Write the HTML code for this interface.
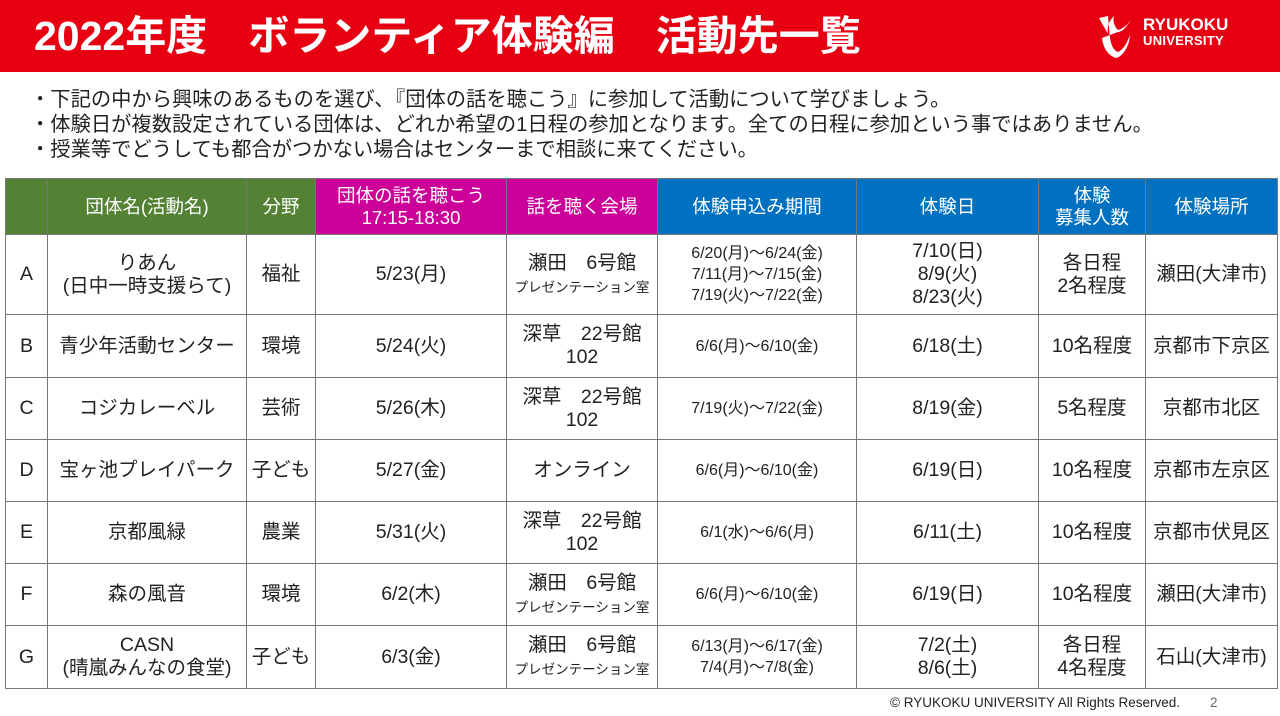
<!DOCTYPE html>
<html><head><meta charset="utf-8"><style>
*{margin:0;padding:0;box-sizing:border-box}
body{width:1280px;height:716px;background:#fff;position:relative;overflow:hidden;font-family:"Liberation Sans","Noto Sans CJK JP",sans-serif;color:#222}
.ban{position:absolute;left:0;top:0;width:1280px;height:72px;background:#e60012}
.ttl{position:absolute;left:34px;top:11px;font-size:41px;line-height:50px;font-weight:bold;color:#fff;letter-spacing:0px;white-space:nowrap}
.logo{position:absolute;left:1143px;top:17px;color:#fff;font-weight:bold;line-height:16px}
.notes{position:absolute;left:30px;top:88px;font-size:20.3px;line-height:25px;white-space:nowrap}
table{position:absolute;left:5px;top:178px;border-collapse:collapse;table-layout:fixed}
td{border:1px solid #777;text-align:center;vertical-align:middle;font-size:19.5px;line-height:23px}
th{color:#fff;font-weight:normal;font-size:18.5px;line-height:22px;border:1px solid #777;height:56px}
.g{background:#548235}.m{background:#cc0099}.b{background:#0070c0}
.s{font-size:13.5px;line-height:17px}.p{font-size:16px;line-height:21px}
.foot{position:absolute;left:890px;top:695px;font-size:13.5px;white-space:nowrap}
</style></head><body>
<div class="ban"></div>
<div class="ttl">2022年度　ボランティア体験編　活動先一覧</div>
<svg style="position:absolute;left:1096px;top:14px" width="40" height="46"><path d="M3 4 L12 2 L14 24 Q16 36 22 38 Q30 34 34 20 L36 4 Q30 14 22 16 Q16 10 18 2 Q10 10 12 20 M22 18 Q28 18 36 4 L33 28 Q28 42 20 44 Q8 40 6 24 Z" fill="#fff"/></svg>
<div class="logo"><div style="font-size:17px">RYUKOKU</div><div style="font-size:13px;letter-spacing:0.3px">UNIVERSITY</div></div>
<div class="notes">・下記の中から興味のあるものを選び､『団体の話を聴こう』に参加して活動について学びましょう。<br>・体験日が複数設定されている団体は、どれか希望の1日程の参加となります。全ての日程に参加という事ではありません。<br>・授業等でどうしても都合がつかない場合はセンターまで相談に来てください。</div>
<table>
<colgroup><col style="width:42px"><col style="width:199px"><col style="width:69px"><col style="width:191px"><col style="width:151px"><col style="width:199px"><col style="width:182px"><col style="width:107px"><col style="width:132px"></colgroup>
<tr><th class="g"></th><th class="g">団体名(活動名)</th><th class="g">分野</th><th class="m">団体の話を聴こう<br>17:15-18:30</th><th class="m">話を聴く会場</th><th class="b">体験申込み期間</th><th class="b">体験日</th><th class="b">体験<br>募集人数</th><th class="b">体験場所</th></tr>
<tr style="height:80px"><td>A</td><td>りあん<br>(日中一時支援らて)</td><td>福祉</td><td>5/23(月)</td><td>瀬田　6号館<br><span class="s">プレゼンテーション室</span></td><td class="p">6/20(月)～6/24(金)<br>7/11(月)～7/15(金)<br>7/19(火)～7/22(金)</td><td>7/10(日)<br>8/9(火)<br>8/23(火)</td><td>各日程<br>2名程度</td><td>瀬田(大津市)</td></tr>
<tr style="height:63px"><td>B</td><td>青少年活動センター</td><td>環境</td><td>5/24(火)</td><td>深草　22号館<br>102</td><td class="p">6/6(月)～6/10(金)</td><td>6/18(土)</td><td>10名程度</td><td>京都市下京区</td></tr>
<tr style="height:62px"><td>C</td><td>コジカレーベル</td><td>芸術</td><td>5/26(木)</td><td>深草　22号館<br>102</td><td class="p">7/19(火)～7/22(金)</td><td>8/19(金)</td><td>5名程度</td><td>京都市北区</td></tr>
<tr style="height:62px"><td>D</td><td>宝ヶ池プレイパーク</td><td>子ども</td><td>5/27(金)</td><td>オンライン</td><td class="p">6/6(月)～6/10(金)</td><td>6/19(日)</td><td>10名程度</td><td>京都市左京区</td></tr>
<tr style="height:62px"><td>E</td><td>京都風緑</td><td>農業</td><td>5/31(火)</td><td>深草　22号館<br>102</td><td class="p">6/1(水)～6/6(月)</td><td>6/11(土)</td><td>10名程度</td><td>京都市伏見区</td></tr>
<tr style="height:62px"><td>F</td><td>森の風音</td><td>環境</td><td>6/2(木)</td><td>瀬田　6号館<br><span class="s">プレゼンテーション室</span></td><td class="p">6/6(月)～6/10(金)</td><td>6/19(日)</td><td>10名程度</td><td>瀬田(大津市)</td></tr>
<tr style="height:63px"><td>G</td><td>CASN<br>(晴嵐みんなの食堂)</td><td>子ども</td><td>6/3(金)</td><td>瀬田　6号館<br><span class="s">プレゼンテーション室</span></td><td class="p">6/13(月)～6/17(金)<br>7/4(月)～7/8(金)</td><td>7/2(土)<br>8/6(土)</td><td>各日程<br>4名程度</td><td>石山(大津市)</td></tr>
</table>
<div class="foot">© RYUKOKU UNIVERSITY  All Rights Reserved.<span style="margin-left:30px;color:#666">2</span></div>
</body></html>
